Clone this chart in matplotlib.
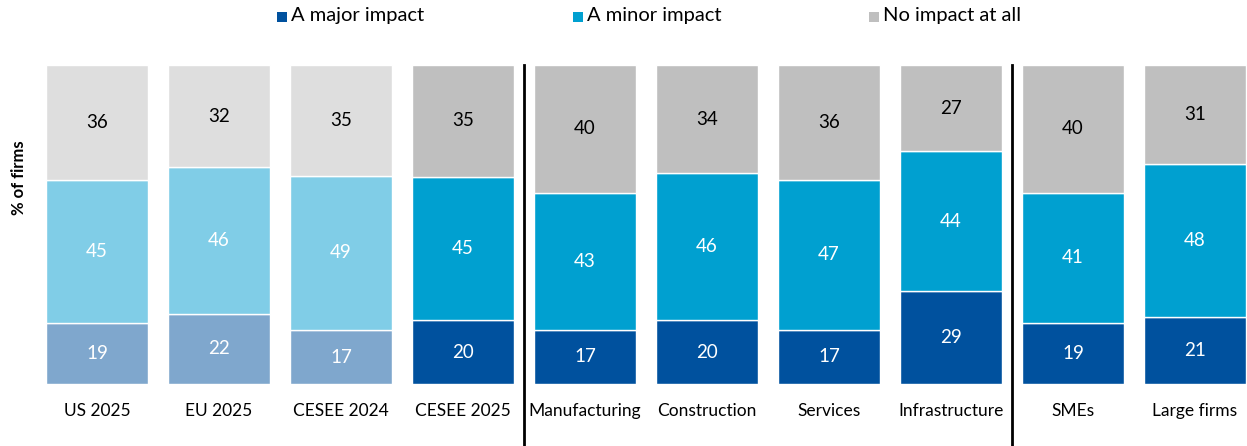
import matplotlib
matplotlib.use("Agg")
import matplotlib.pyplot as plt
from matplotlib.patches import Rectangle
import numpy as np

plt.rcParams['font.family'] = ['Lato', 'DejaVu Sans']

groups = ["US 2025", "EU 2025", "CESEE 2024", "CESEE 2025", "Manufacturing",
          "Construction", "Services", "Infrastructure", "SMEs", "Large firms"]
major = [19, 22, 17, 20, 17, 20, 17, 29, 19, 21]
minor = [45, 46, 49, 45, 43, 46, 47, 44, 41, 48]
no_impact = [36, 32, 35, 35, 40, 34, 36, 27, 40, 31]
series_names = ["A major impact", "A minor impact", "No impact at all"]

W, H = 1247, 446

# first three bars are comparison groups, drawn in paler shades
n_pale = 3
dark = ["#00519E", "#00A0D0", "#BFBFBF"]
pale = ["#7FA7CD", "#80CDE7", "#DEDEDE"]
text_col = ["white", "white", "black"]

fig = plt.figure(figsize=(W / 100, H / 100), dpi=100)
ax = fig.add_axes([36 / W, 1 - 384 / H, 1 - 36 / W, 319 / H])

x = np.arange(len(groups))
data = np.array([major, minor, no_impact], dtype=float)
# 100% stacked: each bar is scaled to its own total
share = data / data.sum(axis=0) * 100
bottom = np.zeros(len(groups))
for k in range(3):
    colors = [pale[k] if i < n_pale else dark[k] for i in range(len(groups))]
    ax.bar(x, share[k], width=0.84, bottom=bottom, color=colors,
           edgecolor="white", linewidth=1.0)
    for i in range(len(groups)):
        ax.text(x[i], bottom[i] + share[k][i] / 2, f"{int(data[k][i])}",
                ha="center", va="center", fontsize=13.5, color=text_col[k])
    bottom += share[k]

# separators between the comparison, sector and size blocks
for xs in [3.5, 7.5]:
    ax.plot([xs, xs], [100, -19.5], color="black", lw=2, clip_on=False)

ax.set_xlim(-0.5, (W - 97) / 122)
ax.set_ylim(0, 100)
ax.set_xticks(x)
ax.set_xticklabels(groups, fontsize=12.5)
ax.tick_params(axis="x", length=0, pad=14)
ax.set_yticks([])
for s in ax.spines.values():
    s.set_visible(False)

fig.text(19 / W, 1 - 178 / H, "% of firms", rotation=90, ha="center",
         va="center", fontsize=12, fontweight="bold")

# legend entries laid out by hand along the top
legend_x = [277, 573, 869]
for px, c, name in zip(legend_x, dark, series_names):
    fig.patches.append(Rectangle((px / W, 1 - 22 / H), 10 / W, 10 / H,
                                 facecolor=c, transform=fig.transFigure))
    fig.text((px + 14) / W, 1 - 16 / H, name, ha="left", va="center",
             fontsize=14.5)

fig.savefig("out.png", dpi=100)
